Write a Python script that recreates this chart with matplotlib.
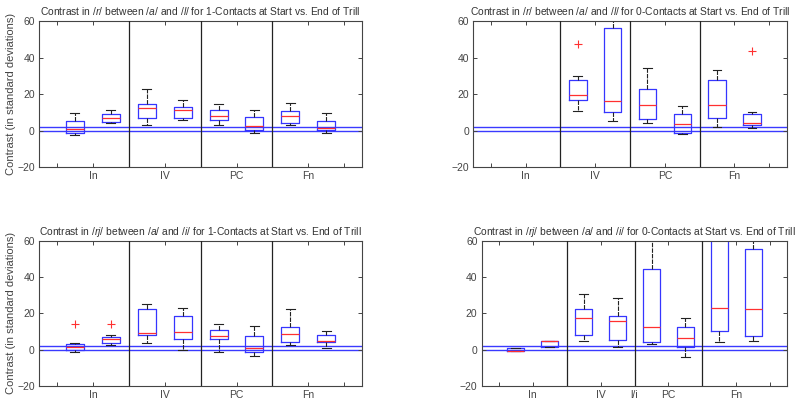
import matplotlib
matplotlib.use('Agg')
import matplotlib.pyplot as plt

plt.rcParams['font.family'] = ['Liberation Sans', 'DejaVu Sans']
plt.rcParams['mathtext.fontset'] = 'custom'
plt.rcParams['mathtext.rm'] = 'Liberation Sans'
plt.rcParams['mathtext.it'] = 'Liberation Sans:italic'

# box positions: In, In, IV, IV, PC, PC, Fn, Fn
positions = [1, 2, 3, 4, 5, 6, 7, 8]
tick_pos = [0.5, 1.5, 2.5, 3.5, 4.5, 5.5, 6.5, 7.5, 8.5]
tick_labels = ['', 'In', '', 'IV', '', 'PC', '', 'Fn', '']
tick_labels_br = ['', 'In', '', 'IV', 'l/i', 'PC', '', 'Fn', '']
separators = [2.5, 4.5, 6.5]
ref_lines = [0, 1.96]

# top left: /r/ 1-Contacts
tl_wlo = [-2.1, 4.0, 3.3, 6.1, 3.0, -1.4, 3.0, -1.4]
tl_q1 = [-1.4, 5.0, 6.8, 6.8, 5.7, 0.6, 4.4, 0.4]
tl_med = [0.8, 6.8, 12.6, 11.2, 8.2, 2.8, 8.0, 1.7]
tl_q3 = [5.5, 9.2, 14.6, 13.2, 11.2, 7.7, 10.6, 5.5]
tl_whi = [9.9, 11.2, 22.7, 17.0, 14.8, 11.2, 15.0, 9.9]
tl_out = [[], [], [], [], [], [], [], []]

# top right: /r/ 0-Contacts (no In data)
tr_wlo = [None, None, 10.6, 5.1, 4.4, -1.8, 2.2, 1.5]
tr_q1 = [None, None, 16.7, 10.2, 6.4, -1.4, 7.0, 3.0]
tr_med = [None, None, 19.4, 16.3, 13.9, 3.7, 13.9, 4.4]
tr_q3 = [None, None, 27.7, 56.0, 22.6, 9.2, 27.9, 9.2]
tr_whi = [None, None, 30.0, 70.0, 34.1, 13.5, 33.4, 10.3]
tr_out = [[], [], [47.3], [], [], [], [], [43.6]]

# bottom left: /rj/ 1-Contacts
bl_wlo = [-1.4, 2.4, 3.5, -0.4, -1.3, -3.7, 2.4, 0.9]
bl_q1 = [-0.2, 3.9, 7.9, 5.7, 5.7, -1.3, 4.2, 4.0]
bl_med = [1.6, 5.7, 9.0, 9.7, 7.3, 0.9, 8.8, 4.6]
bl_q3 = [3.0, 7.2, 22.6, 18.3, 11.0, 7.7, 12.7, 8.3]
bl_whi = [3.5, 7.9, 25.3, 23.1, 14.3, 13.2, 22.4, 10.1]
bl_out = [[14.3], [14.2], [], [], [], [], [], []]

# bottom right: /rj/ 0-Contacts
br_wlo = [-0.8, 1.6, 4.6, 1.5, 3.1, -4.0, 4.0, 4.6]
br_q1 = [-0.7, 1.6, 7.9, 5.5, 4.0, 1.5, 10.3, 7.7]
br_med = [-0.7, 4.8, 17.2, 15.6, 12.5, 6.6, 22.8, 22.2]
br_q3 = [0.8, 4.8, 22.4, 18.3, 44.2, 12.5, 75.0, 55.6]
br_whi = [1.0, 4.8, 30.8, 28.6, 75.0, 17.2, 90.0, 75.0]
br_out = [[], [], [], [], [], [], [], []]

titles = [
    r'Contrast in $\mathit{/r/}$ between $\mathit{/a/}$ and $\mathit{/l/}$ for 1-Contacts at Start vs. End of Trill',
    r'Contrast in $\mathit{/r/}$ between $\mathit{/a/}$ and $\mathit{/l/}$ for 0-Contacts at Start vs. End of Trill',
    r'Contrast in $\mathit{/rj/}$ between $\mathit{/a/}$ and $\mathit{/i/}$ for 1-Contacts at Start vs. End of Trill',
    r'Contrast in $\mathit{/rj/}$ between $\mathit{/a/}$ and $\mathit{/i/}$ for 0-Contacts at Start vs. End of Trill',
]

panels = [
    (tl_wlo, tl_q1, tl_med, tl_q3, tl_whi, tl_out),
    (tr_wlo, tr_q1, tr_med, tr_q3, tr_whi, tr_out),
    (bl_wlo, bl_q1, bl_med, bl_q3, bl_whi, bl_out),
    (br_wlo, br_q1, br_med, br_q3, br_whi, br_out),
]

rects = [
    [0.04875, 0.586, 0.404, 0.362],
    [0.5917, 0.586, 0.3917, 0.362],
    [0.04875, 0.0446, 0.404, 0.3597],
    [0.6021, 0.0446, 0.3821, 0.3597],
]

axis_col = '#444444'

fig = plt.figure(figsize=(8, 4.04), dpi=100)

for k in range(4):
    ax = fig.add_axes(rects[k])
    wlo, q1, med, q3, whi, out = panels[k]
    stats = []
    pos = []
    for i in range(len(positions)):
        if med[i] is None:
            continue
        stats.append(dict(whislo=wlo[i], q1=q1[i], med=med[i], q3=q3[i],
                          whishi=whi[i], fliers=out[i]))
        pos.append(positions[i])

    for y in ref_lines:
        ax.axhline(y, color='#3a3aff', lw=1.0, zorder=1)

    ax.bxp(stats, positions=pos, widths=0.5, capwidths=0.25,
           manage_ticks=False, showfliers=True,
           boxprops=dict(color='#3535ff', lw=0.9),
           medianprops=dict(color='#ff3030', lw=0.9),
           whiskerprops=dict(color='#222222', lw=0.8, linestyle=(0, (4, 1))),
           capprops=dict(color='#222222', lw=0.8),
           flierprops=dict(marker='+', markeredgecolor='#ff3030',
                           markersize=6, markeredgewidth=0.8))

    for s in separators:
        ax.axvline(s, color='#222222', lw=0.9, zorder=3)

    ax.set_xlim(0, 9)
    ax.set_ylim(-20, 60)
    ax.set_yticks([-20, 0, 20, 40, 60])
    ax.set_xticks(tick_pos)
    ax.set_xticklabels(tick_labels_br if k == 3 else tick_labels)
    ax.tick_params(direction='in', length=3, width=0.7, top=True, right=True,
                   labelsize=7.5, colors=axis_col, pad=3)
    for sp in ax.spines.values():
        sp.set_color(axis_col)
        sp.set_linewidth(0.8)
    ax.set_title(titles[k], fontsize=7.4, color='#333333', pad=4)
    if k in (0, 2):
        ax.set_ylabel('Contrast (in standard deviations)', fontsize=8,
                      color=axis_col, labelpad=1)

fig.savefig('out.png', dpi=100)
